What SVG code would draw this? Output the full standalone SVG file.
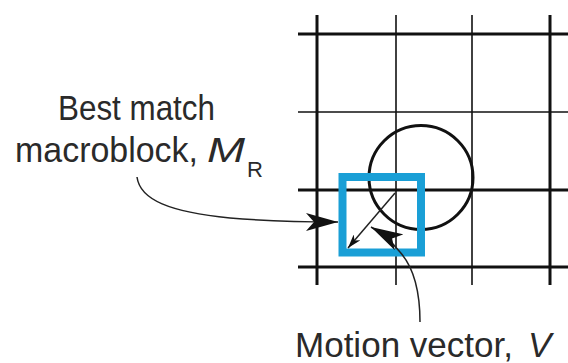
<svg xmlns="http://www.w3.org/2000/svg" width="568" height="363" viewBox="0 0 568 363">
<style>
.thick{stroke:#111;stroke-width:3;fill:none}
.thin{stroke:#111;stroke-width:1.6;fill:none}
.lbl{font-family:"Liberation Sans",Arial,sans-serif;font-size:35px;fill:#2a2a2a}
.conn{stroke:#222;stroke-width:1.5;fill:none}
</style>
<defs>
<marker id="ah" markerWidth="14" markerHeight="9" refX="14" refY="4.5" orient="auto" markerUnits="userSpaceOnUse" viewBox="0 0 14 9">
<path d="M0,0 L14,4.5 L0,9 L4,4.5 Z" fill="#111"/>
</marker>
<marker id="bh" markerWidth="32" markerHeight="18" refX="32" refY="9" orient="auto" markerUnits="userSpaceOnUse" viewBox="0 0 32 18">
<path d="M0,0 L32,9 L0,18 L8,9 Z" fill="#111"/>
</marker>
</defs>
<g id="grid">
<line class="thick" x1="298" y1="34" x2="568" y2="34"/>
<line class="thin" x1="298" y1="112" x2="568" y2="112"/>
<line class="thick" x1="298" y1="190" x2="568" y2="190"/>
<line class="thick" x1="298" y1="267" x2="568" y2="267"/>
<line class="thick" x1="317" y1="15" x2="317" y2="285"/>
<line class="thin" x1="396" y1="15" x2="396" y2="285"/>
<line class="thin" x1="472" y1="15" x2="472" y2="285"/>
<line class="thick" x1="550" y1="15" x2="550" y2="285"/>
</g>
<g id="circle">
<circle cx="421" cy="177.5" r="52" fill="none" stroke="#111" stroke-width="3"/>
</g>
<g id="macroblock">
<rect x="342.5" y="177" width="78.5" height="75.5" fill="none" stroke="#1a9fd6" stroke-width="8"/>
</g>
<g id="connectors">
<line class="conn" x1="395" y1="193" x2="348" y2="248" marker-end="url(#ah)" stroke-width="1.2"/>
<path class="conn" d="M137,177 C140,200 170,212 230,218 C265,221 290,222 338,222" marker-end="url(#bh)"/>
<path class="conn" d="M420,322 C420,295 416,270 400,252 C390,240 382,233 371,227" marker-end="url(#bh)"/>
</g>
<g id="label-best">
<text class="lbl" x="58" y="120" textLength="157" lengthAdjust="spacingAndGlyphs">Best match</text>
<text class="lbl" x="15" y="162" textLength="183" lengthAdjust="spacingAndGlyphs">macroblock,</text>
<text class="lbl" x="207" y="162" font-style="italic" textLength="38" lengthAdjust="spacingAndGlyphs">M</text>
<text class="lbl" x="247" y="177" style="font-size:22px">R</text>
</g>
<g id="label-motion">
<text class="lbl" x="295" y="357" textLength="218" lengthAdjust="spacingAndGlyphs">Motion vector,</text>
<text class="lbl" x="528" y="357" font-style="italic">V</text>
</g>
</svg>
